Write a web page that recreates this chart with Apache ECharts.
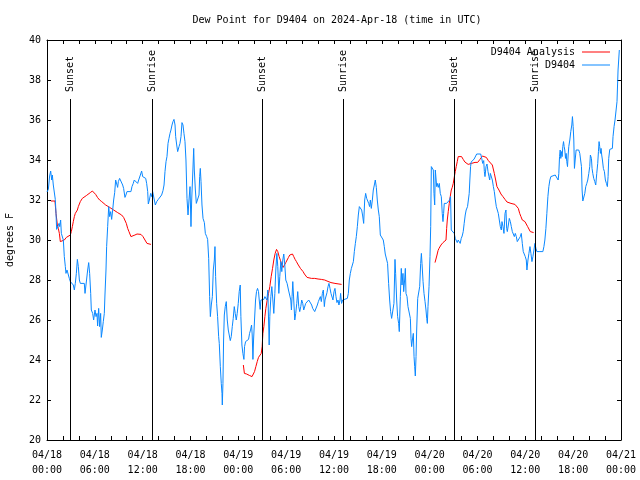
<!DOCTYPE html>
<html>
<head>
<meta charset="utf-8">
<script src="https://cdn.jsdelivr.net/npm/echarts@6/dist/echarts.min.js"></script>
<style>html,body{margin:0;padding:0;background:#fff}#c{width:640px;height:480px}</style>
</head>
<body>
<div id="c"></div>
<script>
// hours since 2024-04-18 00:00 UTC
var tickLabels = ['04/18\n00:00','04/18\n06:00','04/18\n12:00','04/18\n18:00','04/19\n00:00','04/19\n06:00','04/19\n12:00','04/19\n18:00','04/20\n00:00','04/20\n06:00','04/20\n12:00','04/20\n18:00','04/21\n00:00'];
var sunHours = [2.93, 13.21, 27.01, 37.17, 51.1, 61.26];
var sunNames = ['Sunset','Sunrise','Sunset','Sunrise','Sunset','Sunrise'];

var observed = [[0.0,32.4],[0.17,32.53],[0.33,33.2],[0.46,33.45],[0.59,33.0],[0.67,33.25],[0.79,32.75],[0.92,32.7],[1.04,32.03],[1.13,31.33],[1.21,30.53],[1.42,30.53],[1.51,30.83],[1.59,30.67],[1.71,31.0],[1.8,30.33],[2.05,30.0],[2.17,29.17],[2.3,28.67],[2.38,28.33],[2.51,28.5],[2.68,28.47],[2.8,28.08],[2.93,27.92],[3.09,27.87],[3.3,27.75],[3.43,27.5],[3.55,27.83],[3.68,28.33],[3.81,29.03],[3.93,28.67],[4.06,28.0],[4.18,27.83],[4.68,27.83],[4.77,27.33],[4.98,27.33],[5.1,28.5],[5.23,28.87],[5.35,28.33],[5.48,27.33],[5.56,26.5],[5.73,26.33],[5.85,26.0],[6.02,26.5],[6.15,26.17],[6.27,26.33],[6.35,25.7],[6.48,26.58],[6.6,25.67],[6.73,26.33],[6.81,25.13],[6.94,25.5],[7.06,25.92],[7.19,26.33],[7.27,27.25],[7.4,28.5],[7.48,29.67],[7.61,30.67],[7.74,31.67],[7.86,31.17],[7.99,31.42],[8.11,31.03],[8.24,31.5],[8.36,32.0],[8.49,32.37],[8.61,33.0],[8.74,33.08],[8.86,32.63],[8.95,32.92],[9.11,33.08],[9.36,33.08],[9.49,32.75],[9.61,32.58],[9.78,32.13],[9.9,32.25],[10.03,32.42],[10.53,32.42],[10.66,32.67],[10.82,32.83],[10.95,33.0],[11.08,33.08],[11.2,32.92],[11.37,32.83],[11.5,33.0],[11.62,33.08],[11.75,33.3],[11.87,33.45],[12.0,33.17],[12.13,33.08],[12.38,33.08],[12.5,32.83],[12.63,32.42],[12.71,31.8],[12.84,32.0],[13.0,32.33],[13.13,32.17],[13.25,32.42],[13.46,32.37],[13.59,31.75],[13.76,31.92],[13.96,32.03],[14.21,32.05],[14.38,32.25],[14.55,32.47],[14.68,32.75],[14.8,33.42],[14.93,33.92],[15.05,34.17],[15.18,34.83],[15.3,35.08],[15.43,35.33],[15.55,35.5],[15.68,35.75],[15.8,35.92],[15.93,36.03],[16.06,35.75],[16.14,35.17],[16.27,34.75],[16.39,34.42],[16.56,34.67],[16.68,34.83],[16.81,35.17],[16.93,35.87],[17.06,35.75],[17.18,35.33],[17.31,34.92],[17.43,34.0],[17.56,32.08],[17.69,31.25],[17.81,32.0],[17.94,32.67],[18.06,30.67],[18.15,32.0],[18.31,33.6],[18.4,34.58],[18.48,33.5],[18.61,32.5],[18.73,31.83],[18.94,31.83],[19.07,32.25],[19.15,33.17],[19.23,33.58],[19.32,32.92],[19.44,31.75],[19.57,31.08],[19.74,30.87],[19.86,30.33],[20.03,30.17],[20.15,30.03],[20.28,29.08],[20.4,27.17],[20.49,26.17],[20.61,26.75],[20.74,27.17],[20.86,28.5],[20.99,29.0],[21.07,29.67],[21.15,28.17],[21.28,26.83],[21.4,26.17],[21.53,25.17],[21.61,24.83],[21.74,23.67],[21.86,22.83],[21.95,22.33],[21.99,21.75],[22.07,22.83],[22.15,25.0],[22.24,26.25],[22.36,26.67],[22.49,26.92],[22.61,26.0],[22.74,25.5],[22.86,25.58],[22.99,24.97],[23.11,25.17],[23.24,25.67],[23.36,26.08],[23.49,26.67],[23.61,26.33],[23.74,26.0],[23.86,26.33],[23.99,26.83],[24.11,27.42],[24.24,27.75],[24.32,26.17],[24.45,24.75],[24.57,24.33],[24.7,24.03],[24.78,24.67],[24.91,24.92],[25.12,24.92],[25.28,25.03],[25.41,25.33],[25.53,25.5],[25.66,25.75],[25.74,25.25],[25.83,24.03],[25.91,25.0],[26.03,26.0],[26.16,27.0],[26.28,27.42],[26.41,27.58],[26.53,27.42],[26.62,27.0],[26.74,26.53],[26.83,27.0],[26.95,27.03],[27.08,27.08],[27.2,27.03],[27.33,27.17],[27.45,27.25],[27.58,27.0],[27.7,27.5],[27.79,26.0],[27.87,24.75],[27.95,26.17],[28.08,27.17],[28.2,27.67],[28.33,27.0],[28.45,26.33],[28.58,27.33],[28.7,28.5],[28.83,29.33],[28.95,28.67],[29.08,27.33],[29.2,28.17],[29.33,28.92],[29.45,28.42],[29.58,29.0],[29.7,29.3],[29.83,28.75],[29.95,28.0],[30.12,27.83],[30.29,27.5],[30.45,27.42],[30.58,27.0],[30.66,26.5],[30.74,27.17],[30.83,27.92],[30.95,27.0],[31.08,26.0],[31.2,26.33],[31.33,26.83],[31.45,27.42],[31.58,26.67],[31.7,26.42],[31.83,26.67],[31.95,27.0],[32.08,26.83],[32.2,26.5],[32.33,26.47],[32.45,26.83],[32.58,26.75],[32.7,26.92],[32.83,27.0],[33.04,26.97],[33.2,26.75],[33.33,26.58],[33.45,26.5],[33.58,26.42],[33.79,26.47],[33.91,26.75],[34.04,26.92],[34.16,27.0],[34.29,27.17],[34.41,26.92],[34.54,27.33],[34.66,27.5],[34.79,26.67],[34.87,27.0],[35.0,27.0],[35.12,27.37],[35.25,27.67],[35.37,27.83],[35.5,27.58],[35.62,27.33],[35.75,27.25],[35.87,27.0],[36.0,27.42],[36.12,27.58],[36.25,27.17],[36.37,26.87],[36.5,27.0],[36.62,26.75],[36.75,27.0],[36.83,27.33],[36.95,26.83],[37.08,27.0],[37.25,27.08],[37.67,27.08],[37.8,27.33],[37.92,28.0],[38.05,28.33],[38.18,28.58],[38.3,28.67],[38.43,28.92],[38.55,29.42],[38.68,29.83],[38.8,30.17],[38.93,30.67],[39.05,31.25],[39.18,31.67],[39.3,31.67],[39.47,31.5],[39.6,31.2],[39.72,30.83],[39.85,32.0],[39.97,32.33],[40.1,32.08],[40.22,32.0],[40.35,31.83],[40.47,31.67],[40.56,32.0],[40.68,31.58],[40.81,32.0],[40.93,32.5],[41.06,32.75],[41.18,33.0],[41.31,32.63],[41.43,32.0],[41.56,31.5],[41.68,31.17],[41.81,30.25],[42.06,30.25],[42.18,30.0],[42.31,29.67],[42.43,29.3],[42.6,29.3],[42.72,28.83],[42.85,27.83],[42.98,27.0],[43.1,26.42],[43.23,26.08],[43.44,26.08],[43.52,26.83],[43.65,29.03],[43.73,28.33],[43.86,27.0],[43.98,26.17],[44.11,25.83],[44.19,25.42],[44.32,27.17],[44.44,28.58],[44.53,27.75],[44.65,28.33],[44.74,27.42],[44.86,28.0],[44.95,28.58],[45.03,27.33],[45.16,27.17],[45.28,26.67],[45.45,26.67],[45.58,26.08],[45.66,25.08],[45.74,24.67],[45.83,25.0],[45.95,25.33],[46.04,24.17],[46.12,23.67],[46.2,23.2],[46.29,24.17],[46.37,25.5],[46.5,27.08],[46.62,27.08],[46.75,27.67],[46.87,28.83],[46.96,29.33],[47.04,28.83],[47.17,27.92],[47.29,27.33],[47.42,26.92],[47.54,26.5],[47.63,26.08],[47.71,25.83],[47.79,26.67],[47.92,27.67],[48.04,29.17],[48.13,30.67],[48.21,33.67],[48.33,33.67],[48.46,33.5],[48.54,32.33],[48.63,31.75],[48.71,33.5],[48.79,33.53],[48.88,32.67],[48.96,32.83],[49.08,32.63],[49.21,32.83],[49.33,32.33],[49.46,32.17],[49.58,31.33],[49.67,30.92],[49.75,31.33],[49.83,31.83],[49.96,31.92],[50.12,31.83],[50.33,31.87],[50.5,32.0],[50.62,32.17],[50.71,30.5],[50.83,30.42],[50.96,30.5],[51.08,30.33],[51.21,30.08],[51.33,30.03],[51.46,29.87],[51.58,30.0],[51.71,29.92],[51.83,29.83],[51.96,30.08],[52.08,30.2],[52.21,30.42],[52.33,30.83],[52.46,31.25],[52.58,31.5],[52.75,31.67],[52.88,31.67],[52.96,32.33],[53.04,33.0],[53.13,33.67],[53.21,33.9],[53.33,33.95],[53.46,34.0],[53.58,34.05],[53.71,34.1],[53.9,34.3],[54.1,34.3],[54.4,34.3],[54.53,34.08],[54.65,33.83],[54.78,33.97],[54.86,33.42],[54.94,33.17],[55.07,33.67],[55.19,33.8],[55.32,33.42],[55.44,33.17],[55.53,33.0],[55.61,33.33],[55.74,33.42],[55.86,33.0],[55.99,32.67],[56.11,32.42],[56.24,32.0],[56.36,31.67],[56.49,31.58],[56.61,31.33],[56.74,31.25],[56.86,30.67],[56.99,30.5],[57.07,30.92],[57.2,30.67],[57.32,30.33],[57.45,31.33],[57.57,31.5],[57.66,30.58],[57.74,30.42],[57.87,30.75],[57.99,31.08],[58.12,30.92],[58.24,30.67],[58.37,30.42],[58.49,30.37],[58.62,30.17],[58.74,30.33],[58.87,30.17],[58.99,29.92],[59.12,29.83],[59.24,30.0],[59.37,30.17],[59.49,30.33],[59.62,29.83],[59.74,29.42],[59.87,29.47],[59.99,29.17],[60.12,29.0],[60.2,28.5],[60.33,29.0],[60.45,29.33],[60.58,29.67],[60.7,29.33],[60.83,28.92],[60.95,29.17],[61.08,29.5],[61.2,29.83],[61.33,29.58],[61.45,29.42],[61.83,29.42],[62.2,29.42],[62.33,29.67],[62.45,30.0],[62.58,30.58],[62.7,31.33],[62.83,32.17],[62.95,32.67],[63.08,33.0],[63.2,33.17],[63.33,33.25],[63.75,33.25],[63.96,33.17],[64.12,33.0],[64.2,33.33],[64.29,34.17],[64.37,34.5],[64.45,34.08],[64.54,34.42],[64.62,34.17],[64.7,34.67],[64.79,34.92],[64.87,34.67],[64.95,34.5],[65.04,34.08],[65.12,34.33],[65.2,33.92],[65.29,33.67],[65.37,34.25],[65.45,34.67],[65.58,35.0],[65.7,35.42],[65.83,35.75],[65.91,36.17],[66.0,35.67],[66.08,35.0],[66.16,33.58],[66.25,34.0],[66.37,34.5],[66.54,34.53],[66.7,34.5],[66.83,34.33],[66.95,34.25],[67.04,33.67],[67.12,32.5],[67.21,31.95],[67.33,31.95],[67.46,32.33],[67.58,32.67],[67.71,32.83],[67.83,33.0],[67.96,33.33],[68.08,33.67],[68.16,34.25],[68.29,34.08],[68.37,33.58],[68.46,33.33],[68.58,33.08],[68.71,32.92],[68.83,32.75],[68.96,33.33],[69.08,33.83],[69.17,34.42],[69.25,34.92],[69.33,34.67],[69.42,34.33],[69.5,34.58],[69.58,34.25],[69.67,34.0],[69.79,33.58],[69.92,33.42],[70.04,33.0],[70.17,32.83],[70.29,32.67],[70.38,33.17],[70.46,34.08],[70.59,34.53],[70.8,34.58],[70.92,34.58],[71.0,35.17],[71.13,35.67],[71.25,36.0],[71.38,36.03],[71.5,36.92],[71.63,38.5],[71.71,39.0],[71.79,39.5]];

var analysisDay1 = [[0.5,31.95],[1.0,31.95],[1.13,31.33],[1.3,30.75],[1.42,30.58],[1.55,30.33],[1.67,29.92],[1.92,29.88],[2.17,30.0],[2.43,30.13],[2.68,30.17],[2.93,30.25],[3.05,30.42],[3.18,30.67],[3.3,30.92],[3.43,31.17],[3.55,31.33],[3.81,31.5],[3.93,31.67],[4.06,31.8],[4.18,31.92],[4.31,32.0],[4.43,32.08],[4.68,32.17],[4.93,32.22],[5.18,32.3],[5.43,32.37],[5.69,32.45],[5.94,32.42],[6.1,32.28],[6.35,32.12],[6.6,32.0],[6.86,31.92],[7.11,31.83],[7.36,31.75],[7.61,31.7],[7.86,31.63],[8.11,31.58],[8.36,31.5],[8.61,31.45],[8.86,31.37],[9.11,31.3],[9.36,31.25],[9.61,31.13],[9.78,31.08],[9.95,30.83],[10.12,30.58],[10.28,30.42],[10.53,30.17],[10.78,30.2],[11.03,30.25],[11.29,30.3],[11.54,30.33],[11.79,30.28],[12.04,30.17],[12.29,30.0],[12.54,29.83],[12.79,29.78],[13.04,29.78]];
var analysisDay2 = [[24.63,23.75],[24.76,23.33],[25.04,23.3],[25.38,23.23],[25.72,23.17],[25.88,23.2],[26.03,23.42],[26.2,23.67],[26.37,23.92],[26.53,24.13],[26.7,24.2],[26.87,24.33],[26.99,24.67],[27.08,25.33],[27.2,25.67],[27.33,26.17],[27.45,26.58],[27.62,27.0],[27.79,27.33],[27.95,27.67],[28.12,28.17],[28.29,28.58],[28.45,29.0],[28.62,29.33],[28.79,29.53],[28.95,29.42],[29.12,29.17],[29.29,28.97],[29.45,28.75],[29.62,28.63],[29.79,28.7],[29.95,28.87],[30.12,29.0],[30.29,29.13],[30.45,29.25],[30.62,29.33],[30.79,29.3],[30.95,29.17],[31.12,29.03],[31.29,28.92],[31.45,28.8],[31.62,28.7],[31.79,28.58],[31.95,28.5],[32.12,28.42],[32.29,28.3],[32.45,28.2],[32.62,28.13],[32.79,28.12],[33.17,28.08],[33.58,28.08],[34.0,28.05],[34.41,28.03],[34.83,28.0],[35.12,27.95],[35.37,27.88],[35.62,27.87],[35.87,27.83],[36.12,27.83],[36.37,27.8],[36.62,27.8],[36.95,27.78]];
var analysisDay3 = [[48.67,28.87],[48.8,28.92],[48.92,29.25],[49.05,29.47],[49.17,29.58],[49.3,29.67],[49.42,29.75],[49.55,29.83],[49.67,29.87],[49.92,29.87],[50.05,30.0],[50.13,30.58],[50.21,31.0],[50.33,31.42],[50.46,31.83],[50.58,32.17],[50.71,32.5],[50.83,32.63],[50.96,32.83],[51.08,33.13],[51.21,33.42],[51.33,33.67],[51.46,33.92],[51.58,34.17],[51.71,34.25],[51.83,34.25],[52.0,34.17],[52.21,34.03],[52.42,33.9],[52.62,33.8],[52.83,33.78],[53.04,33.78],[53.25,33.83],[53.46,33.88],[53.69,33.88],[54.02,33.88],[54.31,34.03],[54.61,34.2],[54.86,34.23],[55.11,34.13],[55.36,33.97],[55.61,33.87],[55.86,33.75],[56.03,33.67],[56.11,33.33],[56.28,33.0],[56.44,32.67],[56.69,32.5],[56.94,32.3],[57.19,32.17],[57.45,32.03],[57.7,31.9],[57.95,31.87],[58.2,31.83],[58.45,31.8],[58.7,31.78],[58.95,31.75],[59.12,31.58],[59.29,31.33],[59.45,31.17],[59.62,31.0],[59.79,30.97],[59.95,30.92],[60.12,30.83],[60.29,30.67],[60.45,30.58],[60.62,30.42],[60.79,30.37],[61.04,30.37]];

var FONT = 'DejaVu Sans Mono';
var RED = '#ff0000', BLUE = '#0a88ff';

var chart = echarts.init(document.getElementById('c'), null, {renderer: 'canvas'});

var sunLines = sunHours.map(function (h) { return [{coord: [h, 20]}, {coord: [h, 37.05]}]; });
var sunLabels = sunHours.map(function (h, i) { return {coord: [h, 37.4], name: sunNames[i]}; });

function analysisSeries(data) {
  return {
    name: 'D9404 Analysis', type: 'line', data: data, symbol: 'none', showSymbol: false,
    lineStyle: {color: RED, width: 1}, itemStyle: {color: RED}, animation: false, z: 2
  };
}

var option = {
  animation: false,
  backgroundColor: '#ffffff',
  title: {
    text: 'Dew Point for D9404 on 2024-Apr-18 (time in UTC)',
    left: 332, top: 10, textAlign: 'center',
    textStyle: {fontFamily: FONT, fontSize: 10, fontWeight: 'normal', color: '#000'}
  },
  legend: {
    data: ['D9404 Analysis', 'D9404'], orient: 'vertical', right: 25, top: 41,
    align: 'right', icon: 'rect', itemWidth: 28, itemHeight: 1, itemGap: 1,
    textStyle: {fontFamily: FONT, fontSize: 10, color: '#000', padding: [0, 2, 0, 0], lineHeight: 12}
  },
  grid: {left: 47, right: 19, top: 40, bottom: 40, containLabel: false, outerBoundsMode: 'none'},
  xAxis: [{
    type: 'value', min: 0, max: 72, interval: 2,
    axisLine: {show: true, onZero: false, lineStyle: {color: '#000', width: 1}},
    axisTick: {show: true, inside: true, length: 4, lineStyle: {color: '#000'}},
    axisLabel: {
      margin: 8, fontFamily: FONT, fontSize: 10, color: '#000', lineHeight: 15,
      showMaxLabel: true, showMinLabel: true,
      formatter: function (v) { return v % 6 === 0 ? tickLabels[v / 6] : ''; }
    },
    splitLine: {show: false}
  }, {
    type: 'value', min: 0, max: 72, interval: 2, position: 'top',
    axisLine: {show: true, onZero: false, lineStyle: {color: '#000', width: 1}},
    axisTick: {show: true, inside: true, length: 4, lineStyle: {color: '#000'}},
    axisLabel: {show: false}, splitLine: {show: false}
  }],
  yAxis: [{
    type: 'value', min: 20, max: 40, interval: 2,
    name: 'degrees F', nameLocation: 'middle', nameGap: 32, nameRotate: 90,
    nameTextStyle: {fontFamily: FONT, fontSize: 10, color: '#000'},
    axisLine: {show: true, onZero: false, lineStyle: {color: '#000', width: 1}},
    axisTick: {show: true, inside: true, length: 4, lineStyle: {color: '#000'}},
    axisLabel: {margin: 6, fontFamily: FONT, fontSize: 10, color: '#000'},
    splitLine: {show: false}
  }, {
    type: 'value', min: 20, max: 40, interval: 2, position: 'right',
    axisLine: {show: true, onZero: false, lineStyle: {color: '#000', width: 1}},
    axisTick: {show: true, inside: true, length: 4, lineStyle: {color: '#000'}},
    axisLabel: {show: false}, splitLine: {show: false}
  }],
  series: [
    analysisSeries(analysisDay1),
    analysisSeries(analysisDay2),
    analysisSeries(analysisDay3),
    {
      name: 'D9404', type: 'line', data: observed, symbol: 'none', showSymbol: false,
      lineStyle: {color: BLUE, width: 1}, itemStyle: {color: BLUE}, z: 3,
      markLine: {
        silent: true, symbol: ['none', 'none'], animation: false,
        lineStyle: {color: '#000', width: 1, type: 'solid'},
        label: {show: false}, data: sunLines
      },
      markPoint: {
        silent: true, symbol: 'circle', symbolSize: 0, animation: false,
        itemStyle: {color: 'rgba(0,0,0,0)'},
        label: {
          show: true, formatter: '{b}', rotate: 90, position: 'inside',
          align: 'left', verticalAlign: 'middle',
          fontFamily: FONT, fontSize: 10, color: '#000'
        },
        data: sunLabels
      }
    }
  ]
};
chart.setOption(option);
</script>
</body>
</html>
